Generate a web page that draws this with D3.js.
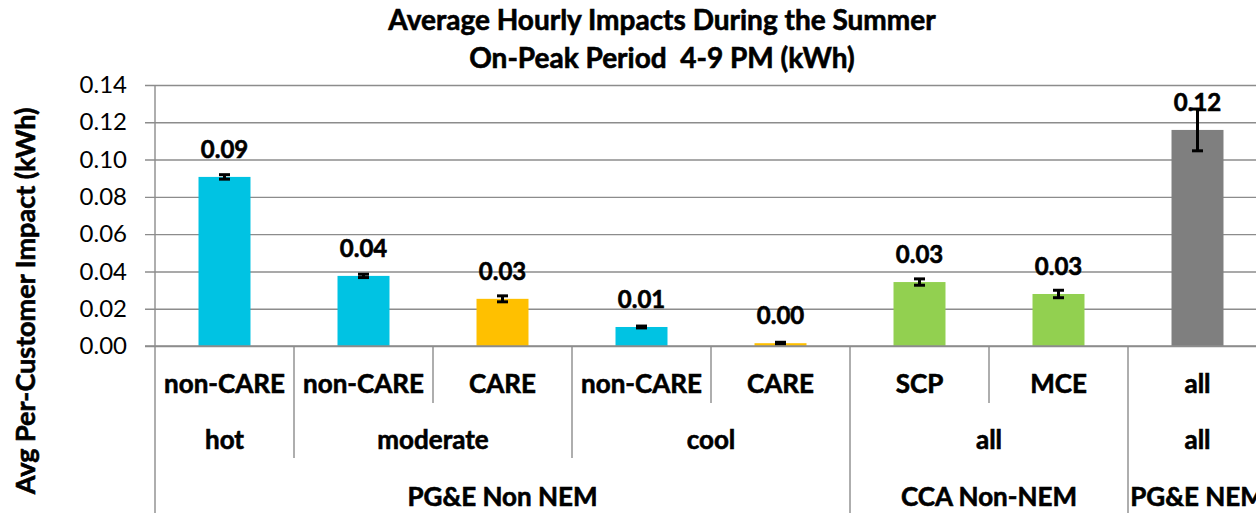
<!DOCTYPE html>
<html>
<head>
<meta charset="utf-8">
<script src="https://cdn.jsdelivr.net/npm/d3@7"></script>
<style>
  body { margin: 0; background: #fff; }
  text { font-family: Lato, "Open Sans", sans-serif; fill: #000; }
  text.heavy { stroke: #000; stroke-width: 0.6px; }
</style>
</head>
<body>
<div id="chart"></div>
<script>
// chart data
var subGroups = ["non-CARE", "non-CARE", "CARE", "non-CARE", "CARE", "SCP", "MCE", "all"];
var climateGroups = [
  { name: "hot", span: 1 },
  { name: "moderate", span: 2 },
  { name: "cool", span: 2 },
  { name: "all", span: 2 },
  { name: "all", span: 1 }
];
var customerGroups = [
  { name: "PG&E Non NEM", span: 5 },
  { name: "CCA Non-NEM", span: 2 },
  { name: "PG&E NEM", span: 1 }
];
var impacts = [0.0907, 0.0376, 0.0253, 0.0102, 0.0015, 0.0343, 0.0279, 0.1159];
var errors = [0.0012, 0.0009, 0.0016, 0.0005, 0.0005, 0.0017, 0.0020, 0.0112];
var barColors = ["#00C3E3", "#00C3E3", "#FFC000", "#00C3E3", "#FFC000", "#92D050", "#92D050", "#7F7F7F"];
var yTicks = [0, 0.02, 0.04, 0.06, 0.08, 0.10, 0.12, 0.14];

var svgWidth = 1256;
var svgHeight = 513;

// plot area runs past the right edge, like the cropped original
var plot = { left: 155, right: 1267, top: 85, bottom: 346 };
var gridColor = "#8c8c8c";

var svg = d3.select("#chart")
  .append("svg")
  .attr("width", svgWidth)
  .attr("height", svgHeight);

var data = impacts.map(function(v, i) {
  return { i: i, value: v, err: errors[i], color: barColors[i], sub: subGroups[i] };
});

var x = d3.scaleBand()
  .domain(d3.range(impacts.length))
  .range([plot.left, plot.right])
  .paddingInner(0.626)
  .paddingOuter(0.313);

var y = d3.scaleLinear()
  .domain([0, 0.14])
  .range([plot.bottom, plot.top]);

// Gridlines + y axis labels
var yAxis = d3.axisLeft(y)
  .tickValues(yTicks)
  .tickFormat(d3.format(".2f"))
  .tickSize(-(plot.right - plot.left) - 10)
  .tickPadding(18);

var yg = svg.append("g")
  .attr("transform", "translate(" + (plot.left - 10) + ",0)")
  .call(yAxis);
yg.select(".domain").remove();
yg.selectAll(".tick line")
  .attr("stroke", gridColor)
  .attr("stroke-width", 1.4);
yg.selectAll(".tick text")
  .attr("font-size", "24px")
  .attr("font-family", "Lato, sans-serif");

// vertical axis line, runs down through the category rows
svg.append("line")
  .attr("x1", plot.left).attr("x2", plot.left)
  .attr("y1", plot.top).attr("y2", svgHeight)
  .attr("stroke", gridColor)
  .attr("stroke-width", 1.4);

// Bars
svg.selectAll("rect.bar")
  .data(data)
  .enter()
  .append("rect")
  .attr("class", "bar")
  .attr("x", d => x(d.i))
  .attr("y", d => y(d.value))
  .attr("width", x.bandwidth())
  .attr("height", d => y(0) - y(d.value))
  .attr("fill", d => d.color);

// Error bars
var capW = 11;
var eb = svg.selectAll("g.err")
  .data(data)
  .enter()
  .append("g")
  .attr("class", "err")
  .attr("stroke", "#000")
  .attr("stroke-width", 3);

eb.append("line")
  .attr("x1", d => x(d.i) + x.bandwidth() / 2)
  .attr("x2", d => x(d.i) + x.bandwidth() / 2)
  .attr("y1", d => y(d.value + d.err))
  .attr("y2", d => y(d.value - d.err));
eb.append("line")
  .attr("x1", d => x(d.i) + x.bandwidth() / 2 - capW / 2)
  .attr("x2", d => x(d.i) + x.bandwidth() / 2 + capW / 2)
  .attr("y1", d => y(d.value + d.err))
  .attr("y2", d => y(d.value + d.err));
eb.append("line")
  .attr("x1", d => x(d.i) + x.bandwidth() / 2 - capW / 2)
  .attr("x2", d => x(d.i) + x.bandwidth() / 2 + capW / 2)
  .attr("y1", d => y(d.value - d.err))
  .attr("y2", d => y(d.value - d.err));

// Data labels
svg.selectAll("text.lbl")
  .data(data)
  .enter()
  .append("text")
  .attr("class", "lbl heavy")
  .attr("x", d => x(d.i) + x.bandwidth() / 2)
  .attr("y", d => y(d.value) - 19)
  .attr("text-anchor", "middle")
  .attr("font-size", "24px")
  .attr("font-weight", "bold")
  .text(d => d3.format(".2f")(d.value));

// x axis baseline
svg.append("line")
  .attr("x1", plot.left - 10).attr("x2", plot.right)
  .attr("y1", plot.bottom).attr("y2", plot.bottom)
  .attr("stroke", gridColor)
  .attr("stroke-width", 1.4);

// Multi-level category axis
var step = x.step();
var rowBase = [393, 449, 506];
var rowBottom = [403, 458, svgHeight];

// separators: how deep each boundary goes
function boundaryDepth(k) {
  var acc = 0, lvl = 0;
  customerGroups.forEach(function(g) { acc += g.span; if (acc === k) lvl = 2; });
  if (lvl) return lvl;
  acc = 0;
  climateGroups.forEach(function(g) { acc += g.span; if (acc === k) lvl = 1; });
  return lvl;
}

d3.range(1, impacts.length + 1).forEach(function(k) {
  var bx = plot.left + k * step;
  svg.append("line")
    .attr("x1", bx).attr("x2", bx)
    .attr("y1", plot.bottom).attr("y2", rowBottom[boundaryDepth(k)])
    .attr("stroke", gridColor)
    .attr("stroke-width", 1.4);
});

svg.selectAll("text.sub")
  .data(subGroups)
  .enter()
  .append("text")
  .attr("class", "sub heavy")
  .attr("x", (d, i) => plot.left + (i + 0.5) * step)
  .attr("y", rowBase[0])
  .attr("text-anchor", "middle")
  .attr("font-size", "26px")
  .attr("font-weight", "bold")
  .text(d => d);

function groupRow(groups, row) {
  var start = 0;
  groups.forEach(function(g) {
    svg.append("text")
      .attr("class", "heavy")
      .attr("x", plot.left + (start + g.span / 2) * step)
      .attr("y", rowBase[row])
      .attr("text-anchor", "middle")
      .attr("font-size", "26px")
      .attr("font-weight", "bold")
      .text(g.name);
    start += g.span;
  });
}
groupRow(climateGroups, 1);
groupRow(customerGroups, 2);

// Title
var title = svg.append("text")
  .attr("class", "heavy")
  .attr("text-anchor", "middle")
  .attr("font-size", "28px")
  .attr("font-weight", "bold");
title.append("tspan").attr("x", 662).attr("y", 30).text("Average Hourly Impacts During the Summer");
title.append("tspan").attr("x", 662).attr("y", 68).text("On-Peak Period\u00a0 4-9 PM (kWh)");

// Y axis title
svg.append("text")
  .attr("class", "heavy")
  .attr("transform", "translate(35, 301) rotate(-90)")
  .attr("text-anchor", "middle")
  .attr("font-size", "27px")
  .attr("font-weight", "bold")
  .text("Avg Per-Customer Impact (kWh)");
</script>
</body>
</html>
